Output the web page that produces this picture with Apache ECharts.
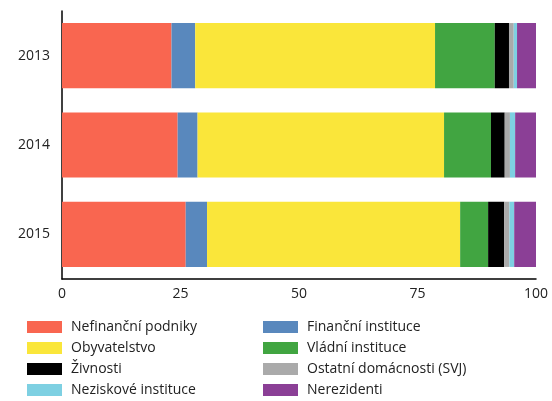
<!DOCTYPE html>
<html>
<head>
<meta charset="utf-8">
<script src="https://cdn.jsdelivr.net/npm/echarts@6/dist/echarts.min.js"></script>
<style>
  html, body { margin: 0; padding: 0; background: #fff; }
  #chart { width: 552px; height: 401px; }
</style>
</head>
<body>
<div id="chart"></div>
<script>
// Sector shares (%) per year, stacked to 100
const years = ['2013', '2014', '2015'];
const xTicks = [0, 25, 50, 75, 100];

const nefinancni = [23.1, 24.4, 26.1];
const financni   = [5.0, 4.2, 4.5];
const obyvatel   = [50.6, 52.0, 53.4];
const vladni     = [12.6, 9.9, 5.9];
const zivnosti   = [3.0, 2.9, 3.4];
const ostatni    = [1.0, 1.1, 1.1];
const neziskove  = [0.7, 1.1, 1.0];
const nerezid    = [4.0, 4.4, 4.6];

const seriesDefs = [
  { name: 'Nefinanční podniky', data: nefinancni, color: '#F96650' },
  { name: 'Finanční instituce', data: financni, color: '#5988BD' },
  { name: 'Obyvatelstvo', data: obyvatel, color: '#FAE63A' },
  { name: 'Vládní instituce', data: vladni, color: '#41A541' },
  { name: 'Živnosti', data: zivnosti, color: '#000000' },
  { name: 'Ostatní domácnosti (SVJ)', data: ostatni, color: '#AAAAAA' },
  { name: 'Neziskové instituce', data: neziskove, color: '#7ED0E2' },
  { name: 'Nerezidenti', data: nerezid, color: '#8B3F96' }
];

const font = '"Open Sans", "Noto Sans", sans-serif';
const chart = echarts.init(document.getElementById('chart'));

const legendBase = {
  orient: 'vertical',
  top: 320,
  height: 81,
  width: 240,
  padding: 0,
  itemWidth: 35,
  itemHeight: 12,
  itemGap: 7,
  icon: 'rect',
  selectedMode: false,
  textStyle: { fontFamily: font, fontSize: 14, color: '#222', padding: [0, 0, 0, 4] }
};

chart.setOption({
  animation: false,
  color: seriesDefs.map(s => s.color),
  grid: { left: 62, right: 16, top: 11, bottom: 122 },
  legend: [
    Object.assign({}, legendBase, {
      left: 27,
      data: ['Nefinanční podniky', 'Obyvatelstvo', 'Živnosti', 'Neziskové instituce']
    }),
    Object.assign({}, legendBase, {
      left: 263,
      data: ['Finanční instituce', 'Vládní instituce', 'Ostatní domácnosti (SVJ)', 'Nerezidenti']
    })
  ],
  xAxis: {
    type: 'value',
    min: xTicks[0],
    max: xTicks[xTicks.length - 1],
    interval: 25,
    axisLine: { show: true, lineStyle: { color: '#000', width: 1.5 } },
    axisTick: { show: false },
    splitLine: { show: false },
    axisLabel: { fontFamily: font, fontSize: 14, color: '#222', margin: 8 }
  },
  yAxis: {
    type: 'category',
    data: years,
    inverse: true,
    axisLine: { show: true, lineStyle: { color: '#000', width: 1.5 } },
    axisTick: { show: false },
    axisLabel: { fontFamily: font, fontSize: 14, color: '#222', margin: 12 }
  },
  series: seriesDefs.map(s => ({
    name: s.name,
    type: 'bar',
    stack: 'total',
    data: s.data,
    barCategoryGap: '27%',
    itemStyle: { color: s.color }
  }))
});
</script>
</body>
</html>
